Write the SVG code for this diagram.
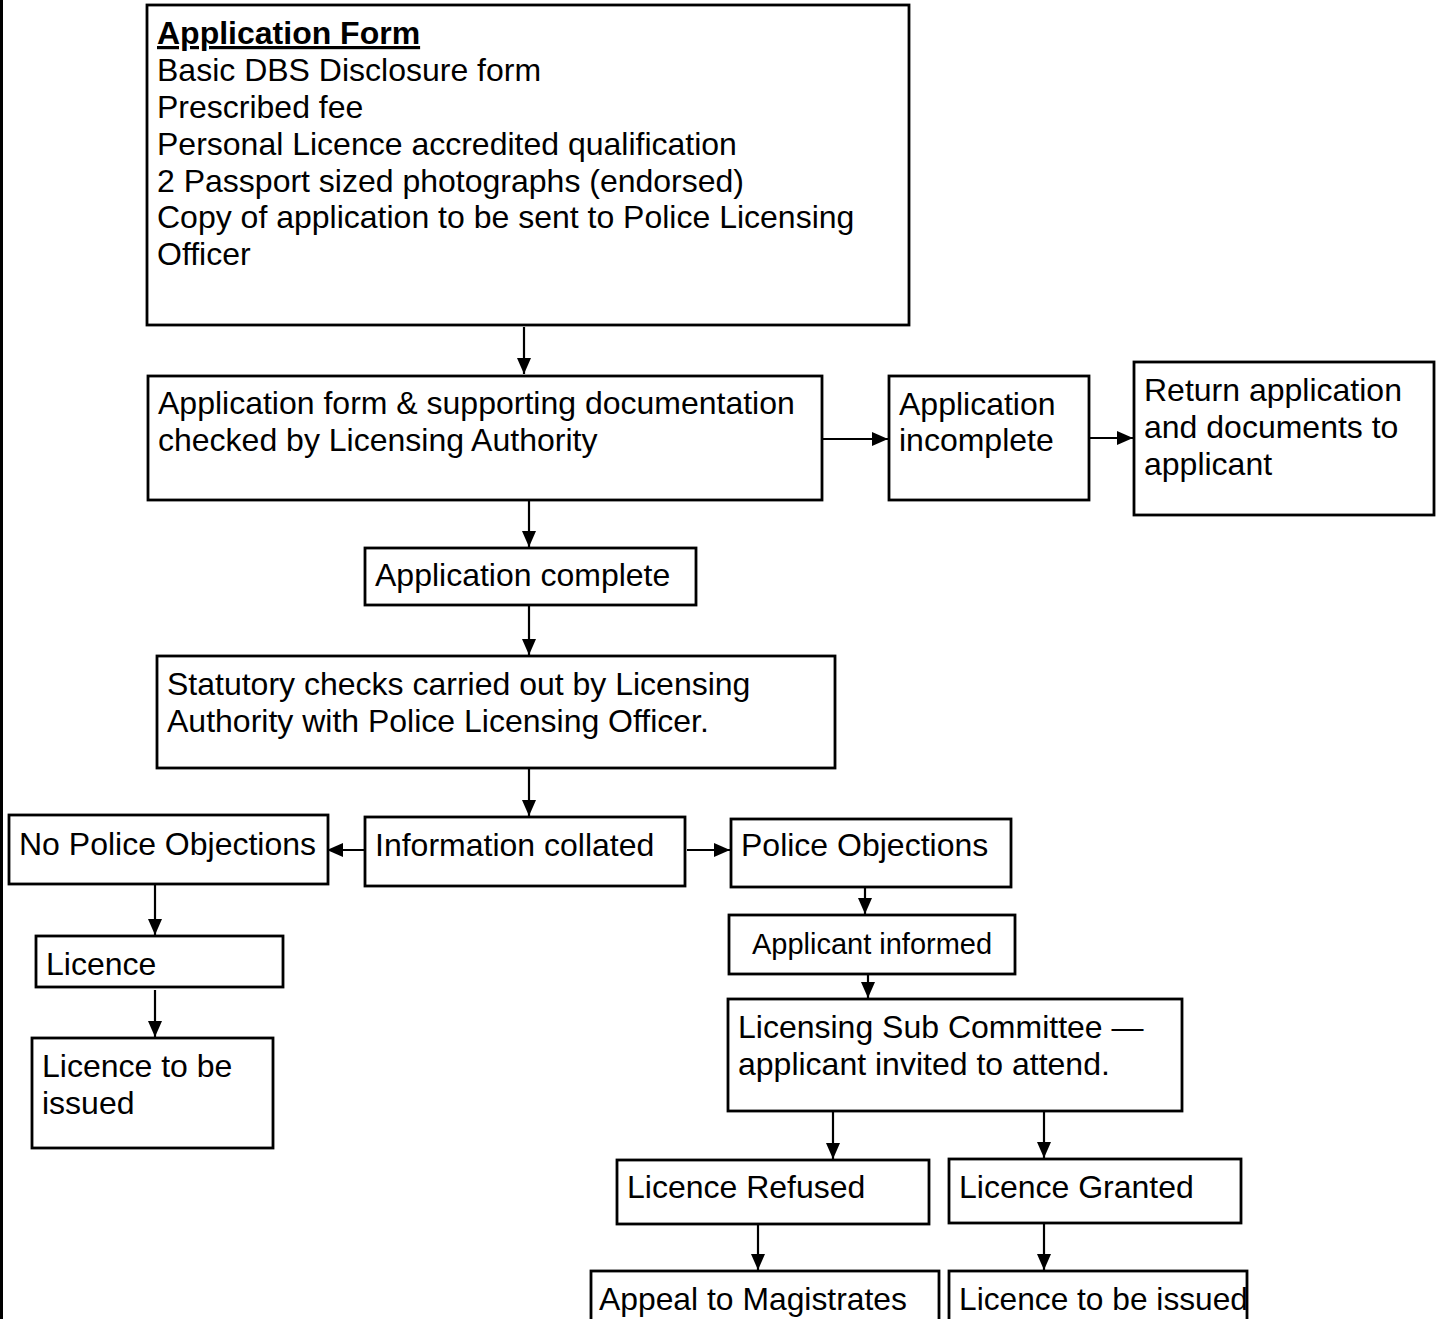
<svg xmlns="http://www.w3.org/2000/svg" width="1443" height="1319" viewBox="0 0 1443 1319">
<style>
.box{fill:#fff;stroke:#000;stroke-width:2.8}
.t{font-family:"Liberation Sans",Arial,sans-serif;font-size:32px;fill:#000}
.b{font-weight:bold;text-decoration:underline}
.s{font-size:29px}
.c{fill:none;stroke:#000;stroke-width:2.2}
</style>
<defs>
<marker id="ah" viewBox="0 0 16 14" refX="16" refY="7" markerWidth="16" markerHeight="14" markerUnits="userSpaceOnUse" orient="auto">
<path d="M0,0 L16,7 L0,14 Z" fill="#000"/>
</marker>
</defs>
<rect x="0" y="0" width="1443" height="1319" fill="#fff"/>
<line x1="1.5" y1="0" x2="1.5" y2="1319" stroke="#000" stroke-width="3"/>
<g id="connectors">
<path class="c" d="M524,327 V374" marker-end="url(#ah)"/>
<path class="c" d="M822,439 H888" marker-end="url(#ah)"/>
<path class="c" d="M1090,438 H1133" marker-end="url(#ah)"/>
<path class="c" d="M529,501 V547" marker-end="url(#ah)"/>
<path class="c" d="M529,606 V655" marker-end="url(#ah)"/>
<path class="c" d="M529,769 V816" marker-end="url(#ah)"/>
<path class="c" d="M365,850 H327" marker-end="url(#ah)"/>
<path class="c" d="M687,850 H730" marker-end="url(#ah)"/>
<path class="c" d="M865,888 V914" marker-end="url(#ah)"/>
<path class="c" d="M868,975 V998" marker-end="url(#ah)"/>
<path class="c" d="M155,885 V935" marker-end="url(#ah)"/>
<path class="c" d="M155,990 V1037" marker-end="url(#ah)"/>
<path class="c" d="M833,1112 V1159" marker-end="url(#ah)"/>
<path class="c" d="M1044,1112 V1158" marker-end="url(#ah)"/>
<path class="c" d="M758,1225 V1270" marker-end="url(#ah)"/>
<path class="c" d="M1044,1224 V1270" marker-end="url(#ah)"/>
</g>
<g id="n-form">
<rect class="box" x="147" y="5" width="762" height="320"/>
<text class="t b" x="157" y="44">Application Form</text>
<text class="t" x="157" y="81">Basic DBS Disclosure form</text>
<text class="t" x="157" y="118">Prescribed fee</text>
<text class="t" x="157" y="155">Personal Licence accredited qualification</text>
<text class="t" x="157" y="192">2 Passport sized photographs (endorsed)</text>
<text class="t" x="157" y="228">Copy of application to be sent to Police Licensing</text>
<text class="t" x="157" y="265">Officer</text>
</g>
<g id="n-checked">
<rect class="box" x="148" y="376" width="674" height="124"/>
<text class="t" x="158" y="414">Application form &amp; supporting documentation</text>
<text class="t" x="158" y="451">checked by Licensing Authority</text>
</g>
<g id="n-incomplete">
<rect class="box" x="889" y="376" width="200" height="124"/>
<text class="t" x="899" y="415">Application</text>
<text class="t" x="899" y="451">incomplete</text>
</g>
<g id="n-return">
<rect class="box" x="1134" y="362" width="300" height="153"/>
<text class="t" x="1144" y="401">Return application</text>
<text class="t" x="1144" y="438">and documents to</text>
<text class="t" x="1144" y="475">applicant</text>
</g>
<g id="n-complete">
<rect class="box" x="365" y="548" width="331" height="57"/>
<text class="t" x="375" y="586">Application complete</text>
</g>
<g id="n-statutory">
<rect class="box" x="157" y="656" width="678" height="112"/>
<text class="t" x="167" y="695">Statutory checks carried out by Licensing</text>
<text class="t" x="167" y="732">Authority with Police Licensing Officer.</text>
</g>
<g id="n-collated">
<rect class="box" x="365" y="817" width="320" height="69"/>
<text class="t" x="375" y="856">Information collated</text>
</g>
<g id="n-nopolice">
<rect class="box" x="9" y="815" width="319" height="69"/>
<text class="t" x="19" y="855">No Police Objections</text>
</g>
<g id="n-police">
<rect class="box" x="731" y="819" width="280" height="68"/>
<text class="t" x="741" y="856">Police Objections</text>
</g>
<g id="n-informed">
<rect class="box" x="729" y="915" width="286" height="59"/>
<text class="t s" x="872" y="954" text-anchor="middle">Applicant informed</text>
</g>
<g id="n-subcommittee">
<rect class="box" x="728" y="999" width="454" height="112"/>
<text class="t" x="738" y="1038">Licensing Sub Committee —</text>
<text class="t" x="738" y="1075">applicant invited to attend.</text>
</g>
<g id="n-licence">
<rect class="box" x="36" y="936" width="247" height="51"/>
<text class="t" x="46" y="975">Licence</text>
</g>
<g id="n-issued-left">
<rect class="box" x="32" y="1038" width="241" height="110"/>
<text class="t" x="42" y="1077">Licence to be</text>
<text class="t" x="42" y="1114">issued</text>
</g>
<g id="n-refused">
<rect class="box" x="617" y="1160" width="312" height="64"/>
<text class="t" x="627" y="1198">Licence Refused</text>
</g>
<g id="n-granted">
<rect class="box" x="949" y="1159" width="292" height="64"/>
<text class="t" x="959" y="1198">Licence Granted</text>
</g>
<g id="n-appeal">
<rect class="box" x="591" y="1271" width="348" height="70"/>
<text class="t" x="599" y="1310" textLength="308" lengthAdjust="spacingAndGlyphs">Appeal to Magistrates</text>
</g>
<g id="n-issued-right">
<rect class="box" x="949" y="1271" width="298" height="70"/>
<text class="t" x="959" y="1310" textLength="289" lengthAdjust="spacingAndGlyphs">Licence to be issued</text>
</g>
</svg>
